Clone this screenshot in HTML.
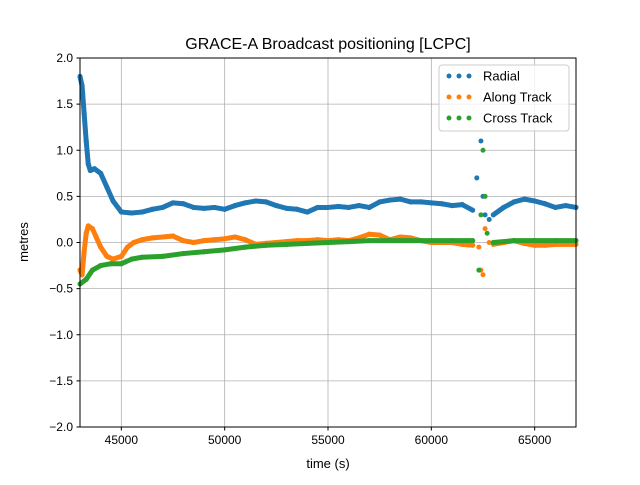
<!DOCTYPE html>
<html><head><meta charset="utf-8"><style>
body{margin:0;background:#fff}
svg{font-family:"Liberation Sans","DejaVu Sans",sans-serif}
</style></head><body>
<svg id="chart" width="640" height="480" xmlns="http://www.w3.org/2000/svg">
<rect width="640" height="480" fill="#fff"/>
<g id="grid"></g>
<g id="series"></g>
<rect x="80" y="58" width="496" height="369" fill="none" stroke="#000" stroke-width="1"/>
<g id="axes"></g>
<text x="328" y="49" text-anchor="middle" font-size="16">GRACE-A Broadcast positioning [LCPC]</text>
<text x="328" y="468" text-anchor="middle" font-size="13">time (s)</text>
<text transform="translate(28,242) rotate(-90)" text-anchor="middle" font-size="13">metres</text>
<g id="legend">
<rect x="439" y="65" width="130" height="66" rx="3" fill="#fff" fill-opacity="0.8" stroke="#ccc"/>
</g>
</svg>
<script>
const xTicks=[45000,50000,55000,60000,65000];
const yTicks=[-2.0,-1.5,-1.0,-0.5,0.0,0.5,1.0,1.5,2.0];
const seriesNames=["Radial","Along Track","Cross Track"];
const radialT=[43000,43100,43200,43300,43400,43500,43700,44000,44300,44600,45000,45500,46000,46500,47000,47500,48000,48500,49000,49500,50000,50500,51000,51500,52000,52500,53000,53500,54000,54500,55000,55500,56000,56500,57000,57500,58000,58500,59000,59500,60000,60500,61000,61500,62000,62200,62400,62500,62600,62800,63000,63500,64000,64500,65000,65500,66000,66500,67000];
const radialV=[1.8,1.7,1.4,1.1,0.85,0.78,0.8,0.75,0.6,0.45,0.33,0.32,0.33,0.36,0.38,0.43,0.42,0.38,0.37,0.38,0.36,0.4,0.43,0.45,0.44,0.4,0.37,0.36,0.33,0.38,0.38,0.39,0.38,0.4,0.38,0.44,0.46,0.47,0.44,0.44,0.43,0.42,0.4,0.41,0.35,0.7,1.1,0.5,0.3,0.25,0.3,0.38,0.44,0.47,0.45,0.42,0.38,0.4,0.38];
const alongT=[43000,43100,43200,43300,43400,43600,43800,44000,44300,44600,45000,45300,45600,46000,46500,47000,47500,48000,48500,49000,49500,50000,50500,51000,51500,52000,52500,53000,53500,54000,54500,55000,55500,56000,56500,57000,57500,58000,58500,59000,59500,60000,60500,61000,61500,62000,62300,62400,62500,62600,62800,63000,63500,64000,64500,65000,65500,66000,66500,67000];
const alongV=[-0.3,-0.35,-0.1,0.1,0.18,0.15,0.05,-0.05,-0.15,-0.18,-0.15,-0.05,0.0,0.03,0.05,0.06,0.07,0.02,0.0,0.02,0.03,0.04,0.06,0.03,-0.02,-0.01,0.0,0.01,0.02,0.02,0.03,0.02,0.03,0.02,0.05,0.09,0.08,0.03,0.06,0.05,0.02,0.0,0.0,0.0,-0.02,-0.03,-0.05,-0.3,-0.35,0.15,0.0,-0.02,0.0,0.02,-0.01,-0.03,-0.03,-0.02,-0.02,-0.02];
const crossT=[43000,43300,43600,44000,44500,45000,45500,46000,47000,48000,49000,50000,51000,52000,53000,54000,55000,56000,57000,58000,59000,60000,61000,62000,62300,62400,62500,62600,62700,63000,64000,65000,66000,67000];
const crossV=[-0.45,-0.4,-0.3,-0.25,-0.23,-0.23,-0.18,-0.16,-0.15,-0.12,-0.1,-0.08,-0.05,-0.03,-0.02,-0.01,0.0,0.01,0.02,0.02,0.02,0.02,0.02,0.02,-0.3,0.3,1.0,0.5,0.1,0.0,0.02,0.02,0.02,0.02];
const sparseStart=62100, sparseEnd=62900;

const NS="http://www.w3.org/2000/svg";
const X0=80,X1=576,Y0=427,Y1=58,XMIN=43000,XMAX=67000,YMIN=-2,YMAX=2;
function xs(v){return X0+(v-XMIN)/(XMAX-XMIN)*(X1-X0);}
function ys(v){return Y0-(v-YMIN)/(YMAX-YMIN)*(Y0-Y1);}
function mk(tag,attrs,parent){const e=document.createElementNS(NS,tag);for(const k in attrs)e.setAttribute(k,attrs[k]);parent.appendChild(e);return e;}
const grid=document.getElementById('grid'),axes=document.getElementById('axes'),ser=document.getElementById('series');
xTicks.forEach(t=>{
 const g=mk('line',{x1:xs(t),x2:xs(t),y1:Y1,y2:Y0,stroke:'#b0b0b0','stroke-width':0.8},grid);
 
 
 mk('line',{x1:xs(t),x2:xs(t),y1:Y0,y2:Y0+3.5,stroke:'#000'},axes);
 const l=mk('text',{x:xs(t),y:Y0+17,'text-anchor':'middle','font-size':12},axes);
 l.textContent=t;
 
 
});
yTicks.forEach(t=>{
 const g=mk('line',{x1:X0,x2:X1,y1:ys(t),y2:ys(t),stroke:'#b0b0b0','stroke-width':0.8},grid);
 
 
 mk('line',{x1:X0-3.5,x2:X0,y1:ys(t),y2:ys(t),stroke:'#000'},axes);
 const l=mk('text',{x:X0-7,y:ys(t)+4,'text-anchor':'end','font-size':12},axes);
 l.textContent=(t<0?'\u2212':'')+Math.abs(t).toFixed(1);
 
 
});
const colors=['#1f77b4','#ff7f0e','#2ca02c'];
const data=[[radialT,radialV],[alongT,alongV],[crossT,crossV]];
const names=['radial-series','along-track-series','cross-track-series'];
data.forEach((d,i)=>{
 const g=mk('g',{},ser);
 
 
 const [T,V]=d;
 for(let k=1;k<T.length;k++){
  if(T[k]>sparseStart && T[k-1]<sparseEnd)continue;
  mk('line',{x1:xs(T[k-1]),y1:ys(V[k-1]),x2:xs(T[k]),y2:ys(V[k]),stroke:colors[i],'stroke-width':5,'stroke-linecap':'round'},g);
 }
 T.forEach((t,k)=>{
  const c=mk('circle',{cx:xs(t),cy:ys(V[k]),r:2.5,fill:colors[i]},g);
  
  
 });
});
const leg=document.getElementById('legend');
seriesNames.forEach((n,i)=>{
 const y=76+i*21;
 const e=mk('g',{},leg);
 
 
 [449,459,469].forEach(x=>mk('circle',{cx:x,cy:y,r:2.5,fill:colors[i]},e));
 const t=mk('text',{x:483,y:y+4.5,'font-size':13},e);
 t.textContent=n;
});
</script>
</body></html>
